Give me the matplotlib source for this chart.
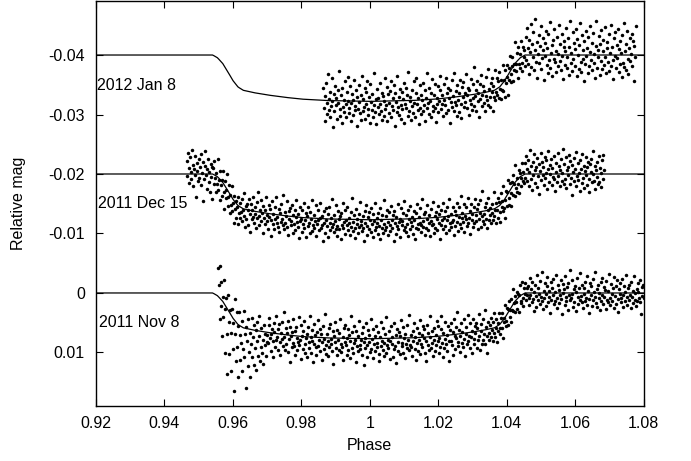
import numpy as np
import matplotlib
matplotlib.use('Agg')
import matplotlib.pyplot as plt
from matplotlib.ticker import FuncFormatter

plt.rcParams['font.family'] = ['Liberation Sans', 'DejaVu Sans']
plt.rcParams['font.size'] = 11.5
plt.rcParams['axes.unicode_minus'] = False

# transit model shape: phase vs fraction of full depth
model_phase = [0.920, 0.9541, 0.9555, 0.9570, 0.9585, 0.9600, 0.9615, 0.9630, 0.9660,
               0.9700, 0.9750, 0.9800, 0.9870, 0.9997, 1.0124, 1.0194, 1.0244, 1.0294,
               1.0334, 1.0364, 1.0379, 1.0394, 1.0409, 1.0424, 1.0439, 1.0453, 1.080]
model_frac = [0, 0, 0.06, 0.18, 0.36, 0.55, 0.69, 0.76, 0.81, 0.86, 0.91, 0.95, 0.98, 1.0,
              0.98, 0.95, 0.91, 0.86, 0.81, 0.76, 0.69, 0.55, 0.36, 0.18, 0.06, 0, 0]

nights = ['2012 Jan 8', '2011 Dec 15', '2011 Nov 8']
baseline = [-0.040, -0.020, 0.0]
depth = [0.0078, 0.0077, 0.0077]
phase_start = [0.9864, 0.9465, 0.9557]
phase_end = [1.0776, 1.0684, 1.0800]
label_pos = [(0.9202, -0.0349), (0.9206, -0.0151), (0.9209, 0.0049)]

# residuals from the model, units of 1e-4 mag (positive = fainter)
resid_jan8 = [
    # in transit
    -20, 12, 35, -8, -30, 5, 22, -45, 16, -3, 28, -14, 9, -38, 1, 44, -11, 18, -25, 7,
    -5, 30, -18, 3, -50, 14, 25, -9, 38, -22, 10, -1, 19, -33, 6, 27, -15, 0, -40, 21,
    11, -26, 4, 33, -12, -2, 24, -36, 15, 8, -19, 41, -7, 13, -28, 2, 20, -10, 32, -43,
    17, -4, 9, -23, 29, -16, 5, -35, 23, 12, -8, 36, -29, 1, 14, -13, 26, -47, 7, 18,
    -3, 39, -21, 10, -6, 22, -31, 4, 16, -14, 31, -9, -1, 25, -39, 13, 6, -24, 34, -11,
    3, 20, -17, -34, 27, 9, -5, 15, -27, 42, -13, 2, 19, -42, 11, 24, -7, -20, 8, 30,
    -15, 14, -2, -30, 37, 5, -22, 12, -10, 26, -48, 17, 1, -6, 33, -18, 10, 21, -32, 4,
    28, -12, -37, 7, 16, -4, 40, -25, 13, -9, 23, 0, -29, 18, 9, -16, 35, -3, -44, 14,
    6, 25, -19, 2, -11, 30, -35, 11, 19, -7, 15, -26, 38, -1, 8, -21, 22, 4, -14, -38,
    17, 10, -5, 29, -24, 3, 12, -33, 26, -8, 20, -17, 1, 43, -12, 7, -30, 16, -2, 24,
    -41, 9, 14, -10, 32, -20, 5, -6, 27, -28, 13, 36, -15, 2, -23, 18, -4, 11, -36, 21,
    0, -13, 34, -9, 8, -27, 15, 25, -18, 6, -46, 19, 3, -7, 28, -22, 12, -1, 39, -16,
    10, -31, 4, 22, -11, 17, -3, 31, -26, 7, 14, -39, 23, -5, 9, 26, -14, 1, -21, 35,
    -8, 12, -33, 18, 5, -19, 11,
    # egress
    -12, 18, -25, 4, 22, -8, 10, -30, 15, -3, 28, -16, 7, -20, 1, 33, -10, 12, -27, 6,
    20, -5, -18, 25, -2, 9, -35, 14, 3, -13, 30, -22, 8, 17, -7, -28, 11, 24, -15, 2,
    -9, 19,
    # after transit
    -30, 8, -45, 15, -12, -25, 32, -5, -52, 20, -18, 3, -38, 26, -8, -60, 11, -22, 38, -2,
    -33, 14, -15, -48, 24, 5, -28, -9, 42, -20, 1, -40, 17, -11, 30, -35, 9, -55, 21, -4,
    -16, 35, -26, 6, -43, 12, -7, 28, -31, -1, 18, -50, 10, -19, 25, -36, 2, 40, -13, -24,
    16, -6, -46, 22, 4, -29, 33, -14, -58, 13, -3, 27, -39, 7, -21, 19, -10, -44, 36, -27,
    0, 23, -17, -53, 11, 29, -34, 6, -8, 44, -23, 15, -41, 2, -12, 31, -30, 18, -5, -49,
    9, -20, 26, -37, 14, -2, 39, -15, -57, 21, -9, 4, -32, 34, -18, 10, -42, 24, -7, -26,
    17, -47, 3, 30, -22, -11, 12, -35, 27, -4, -51, 19, -14, 8, 41, -28, 1, -38, 22, -16,
    5, -44, 28, -10, 15, -24, -3, 37, -33, 13, -54, 20, -6, 25, -19, -40, 7, 32, -12, -29,
    10, -1, -36, 18, -23, 43, -15, 4, -48]

resid_dec15 = [
    # before transit
    -22, 4, -35, -10, 15, -28, -3, 9, -40, -15, 20, -8, -30, 2, 38, -18, -5, 12, -25, 6,
    -12, -33, 18, -2, 45, -20, 8, -14, -38, 1, 25, -9, -26, 14, -4, 30, -17, 5, 42, -11,
    # ingress
    -10, 16, -24, 5, 28, -6, 12, -30, 20, 2, 35, -15, 8, 24, -4, -20, 14, 40, -8, 18,
    3, -26, 26, 10, -12, 32, 0, 15, -18, 22, 7, 38, -9, 13, -3, 25, 5, -14, 30, 11,
    -6, 19,
    # in transit
    8, -14, 21, 3, -27, 12, 30, -5, 16, -9, 1, 25, -19, 6, 36, -11, 14, -2, -24, 10,
    19, -7, 4, 28, -16, 11, -33, 7, 22, -3, 15, -21, 0, 34, -12, 9, 18, -6, -28, 13,
    2, 26, -15, 5, -8, 38, 10, -22, 17, -1, 24, -13, 8, -30, 14, 3, 20, -10, 29, -4,
    -18, 11, 6, -35, 16, 23, -7, 12, 1, -25, 19, 31, -9, 4, -14, 15, 7, -20, 27, -2,
    13, -11, 22, 0, -29, 9, 17, -5, 35, -17, 6, 2, 25, -12, 11, -24, 18, 4, -8, 32,
    -3, 14, -19, 8, 26, -10, 1, 21, -31, 12, 16, -6, 5, -22, 29, 9, -15, 3, 20, -1,
    -26, 15, 10, -4, 37, -13, 7, 24, -18, 2, 12, -9, 30, -20, 6, 19, -2, -34, 13, 8,
    22, -7, 3, 17, -23, 11, 28, -14, 0, 16, -5, 33, -11, 9, -27, 14, 5, 24, -16, 1,
    10, -21, 18, 6, -3, 27, -12, 13, -36, 20, 4, -8, 15, 31, -17, 7, -1, 23, -10, 12,
    -30, 9, 2, 19, -6, 14, 35, -15, 5, -24, 11, 26, -4, 16, -13, 0, 21, -19, 8, 29,
    -9, 3, 17, -28, 13, 6, -2, 25, -11, 10, -20, 32, 1, 15, -7, 22, -33, 8, 18, -5,
    12, -16, 27, 4, -12, 9, 20, -23, 14, 2, -8, 36, -14, 7, 24, -3, 11, -26, 16, 5,
    -1, 30, -18, 10, 3, -10, 19, -30, 13, 22, -6, 8, -15, 28, 0, 17, -21, 6, 12, -4,
    25, -13, 2, 34, -9, 15, -25, 9, 18, -2, 7, -17, 23, 11, -32, 14, 4, -7, 29, -11,
    16, 1, -22, 20, 8, -5, 31, -14, 6, 13, -27, 10, 26, -3, 18, -10, 3, 22, -19, 9,
    -6, 37, -12, 14, 5, -24, 21, 2, -9, 16, 28, -16, 7, -1, 24, -29, 12, 19, -4, 10,
    -15, 8, 33, -8, 17, 0, -20, 11, 27, -13, 4, 15, -31, 22, 6, -2, 13, -18, 30, 3,
    9, -11, 20, -26, 15, 7, -4, 35, -16, 12, 1, 24, -9, 18, -23, 5, 14, -6, 28, -14,
    11, 2, -19, 26, 8, -35, 17, 4, 21, -7, 13, -12, 30, 0, -21, 16, 9, -3, 23, -10,
    6, 19, -28, 12, 3, -8, 25,
    # egress
    4, -15, 20, -6, 11, 28, -19, 7, -2, 16, -25, 13, 2, 33, -10, 18, -4, -22, 9, 24,
    -12, 6, 30, -8, 15, -17, 1, 22, -28, 12, 19, -3, 8, -14, 26, -7, 3, 17, -21, 10,
    -5, 14,
    # after transit
    -18, 6, -30, 12, -9, -24, 20, -3, -40, 8, -14, 27, -21, 1, -33, 15, -7, -12, 22, -27,
    4, -16, 33, -5, -36, 10, -20, 2, -11, 18, -29, 7, -2, -23, 25, -8, -38, 13, -15, 0,
    -26, 19, -10, 5, -31, 9, 29, -19, -4, 14, -35, 3, -13, 21, -7, -25, 11, -1, -42, 16,
    -17, 8, -28, 24, -6, -12, 1, -32, 17, -22, 6, 35, -15, -3, -27, 12, -9, 20, -37, 4,
    -19, 10, -1, 28, -24, -8, 15, -34, 7, -14, 23, -5, -29, 2, 18, -11, -21, 9, 31, -16,
    -4, -26, 13, 0, -39, 11, -13, 26, -7, -20, 5, 16, -30, 14, -10, 22, -2, -23, 8, -32,
    -6]

resid_nov8 = [
    # ingress, large scatter
    -48, -20, 35, -55, 12, -30, 60, -8, 25, -40, 82, 5, -15, 44, 110, -25, 18, 70, -5, 95,
    30, -12, 52, 8, 120, -35, 22, 65, -18, 40, 3, 88, -22, 15, 57, 28, -10, 74, 35, -28,
    48, 10, 100, -3, 20, 62, -16, 38, 6, 80, 25, -20, 45, 12, -8, 58, 30, 0, 66, -14,
    18, 42, -25, 9, 50, 27, -6, 36, 14, 55, -12, 22, 4, 40, 16,
    # in transit
    5, 18, -12, -25, 9, 31, 2, -7, 14, 40, -18, -3, 22, 11, -30, 6, 27, -9, -16, 35,
    13, -2, -21, 8, 19, -38, 4, 25, 16, -11, -4, 29, -24, 7, 45, -14, 1, 20, -6, 12,
    -28, 17, 33, -8, -15, 3, 24, 10, -33, 15, 6, -19, 38, -1, 21, -10, -26, 13, 28, 2,
    -5, 34, -17, 9, 18, -35, 0, 26, -12, 7, 42, -22, 11, -3, 16, 30, -9, -29, 14, 4,
    23, -14, -6, 37, 8, -20, 19, 2, -40, 12, 27, -7, 5, 31, -16, 15, -24, 10, 1, 22,
    -11, 43, -4, 6, -27, 17, 29, -13, 3, 20, -8, -32, 24, 9, 14, -2, 36, -18, 7, -23,
    12, 0, 28, -15, 19, -6, 33, 4, -37, 16, -10, 25, 8, -21, 2, 39, -12, 13, 21, -5,
    -30, 10, 18, 3, -9, 27, -19, 6, 44, -1, 15, -26, 11, 30, -14, 5, -7, 23, -34, 17,
    1, -16, 32, 9, -4, 20, -22, 14, 7, -11, 26, 38, -3, -28, 12, 4, 19, -17, 8, 29,
    -8, 24, -36, 11, 2, 16, -13, 35, 5, -20, 9, -2, 31, -25, 18, 13, -6, 41, -15, 6,
    21, -10, -3, 27, -31, 14, 8, -18, 25, 0, 33, -7, 10, -22, 17, 3, -39, 20, 12, -5,
    15, 30, -12, 6, -24, 19, -1, 37, -16, 9, 23, -8, 4, -29, 28, 11, -4, 16, -19, 2,
    -13, 26, 7, 40, -21, 13, -6, 22, 1, -35, 18, 10, -9, 32, -14, 5, 24, -2, 14, -26,
    8, -17, 29, 3, 19, -11, -33, 12, 36, -5, 21, -23, 6, 15, -1, 27, -15, 9, 43, -8,
    -20, 11, 17, -4, 34, -27, 2, 25, -12, 7, -37, 20, 13, -7, 30, 4, -18, 16, -3, 23,
    10, -24, 38, 1, -10, 18, -30, 14, 5, 26, -16, 8, -2, 35, -22, 12, 20, -9, 3, -14,
    28, -6, 15, -28, 9, 33, -11, 0, 22, -19, 17, 6, -34, 24, -5, 11, 39, -13, 7, 19,
    # egress
    -6, 14, -18, 3, 22, -10, 8, -25, 16, 1, -13, 27, -4, 10, -20, 6, 18, -8, -15, 12,
    30, -2, 5, -22, 15, 9, -11, 20, -5, -17, 11, 2, 24, -14, 7, -26, 13, 0, -9, 19,
    4, -12, 17, -7, 25, -3, -19, 9, 14, -21, 6, 21, -10, 1, -16, 12, 3, -8,
    # after transit
    -12, 8, 20, -25, 3, -6, 15, -18, 10, 31, -2, -14, 5, 24, -30, 12, -8, 1, 18, -20,
    7, -35, 14, 27, -4, 9, -16, 2, 22, -11, -27, 16, 6, -3, 33, -19, 11, -9, 4, -24,
    19, -1, 13, -31, 8, 25, -13, -5, 17, 3, -22, 10, 36, -15, 0, -7, 21, -28, 14, 6,
    -10, 28, -17, 4, 12, -38, 9, 1, -21, 23, -6, 15, -12, 30, -2, -26, 7, 18, -9, 11,
    -33, 5, 16, -14, 26, 2, -8, -19, 13, 8, -29, 20, -4, 10, 34, -16, 3, -11, 22, -23,
    12, -1, 6, -36, 17, 24, -7, -13, 9, 0, 29, -18, 14, -25, 4, 19, -10, 7, -5, 27,
    -20, 11, -3, 15, -32, 8, 21, -15, 2, 13, -8, -27, 25, 5, -12, 18, -21, 10, 32, -6,
    1, -17, 16, 9, -24, 4, 23, -11, -2, 14, -30, 7, 20, -9, 12, -14, 3, 26, -19, 6,
    -4, 17, -28, 11, 0, 22, -7, 13, -16, -1, 8, -22, 15, 35, -10, 5, -13, 9]

residuals = [resid_jan8, resid_dec15, resid_nov8]

fig = plt.figure(figsize=(6.91, 4.61), dpi=100)
ax = fig.add_axes([0.1389, 0.1193, 0.7927, 0.8775])

grid = np.linspace(0.92, 1.08, 800)
for i in range(3):
    res = np.array(residuals[i]) * 1e-4
    ph = np.linspace(phase_start[i], phase_end[i], len(res))
    mag = baseline[i] + depth[i] * np.interp(ph, model_phase, model_frac) + res
    ax.plot(ph, mag, 'o', color='black', ms=2.5, mew=0)
    ax.plot(grid, baseline[i] + depth[i] * np.interp(grid, model_phase, model_frac),
            color='black', lw=0.9)
    ax.text(label_pos[i][0], label_pos[i][1], nights[i], ha='left', va='center')

ax.set_xlim(0.92, 1.08)
ax.set_ylim(0.019, -0.049)
ax.set_xticks([0.92, 0.94, 0.96, 0.98, 1.0, 1.02, 1.04, 1.06, 1.08])
ax.set_yticks([-0.04, -0.03, -0.02, -0.01, 0.0, 0.01])
ax.xaxis.set_major_formatter(FuncFormatter(lambda v, p: '%g' % round(v, 4)))
ax.yaxis.set_major_formatter(FuncFormatter(lambda v, p: '%g' % round(v, 4)))
ax.tick_params(direction='in', length=5, width=0.8, top=True, right=True)
ax.tick_params(axis='y', pad=8)
ax.tick_params(axis='x', pad=7)
for s in ax.spines.values():
    s.set_linewidth(1.0)

ax.set_xlabel('Phase')
ax.set_ylabel('Relative mag')
ax.xaxis.set_label_coords(0.5, -0.078)
ax.yaxis.set_label_coords(-0.128, 0.5)

fig.savefig('out.png', dpi=100)
